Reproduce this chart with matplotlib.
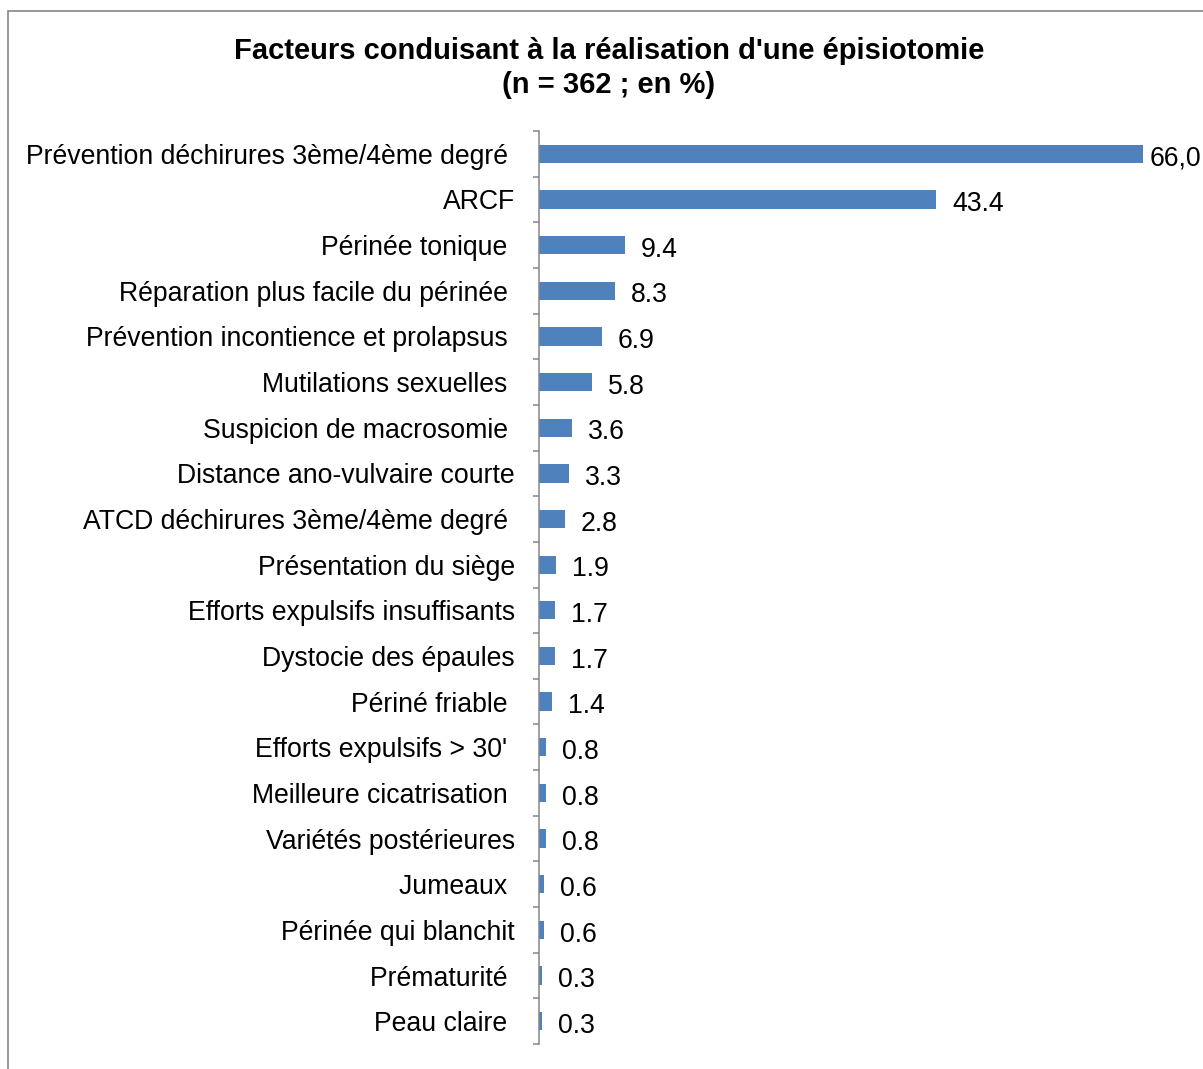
import matplotlib.pyplot as plt
import numpy as np
from matplotlib.patches import Rectangle

categories = [
    "Prévention déchirures 3ème/4ème degré ",
    "ARCF",
    "Périnée tonique ",
    "Réparation plus facile du périnée ",
    "Prévention incontience et prolapsus ",
    "Mutilations sexuelles ",
    "Suspicion de macrosomie ",
    "Distance ano-vulvaire courte",
    "ATCD déchirures 3ème/4ème degré ",
    "Présentation du siège",
    "Efforts expulsifs insuffisants",
    "Dystocie des épaules",
    "Périné friable ",
    "Efforts expulsifs > 30' ",
    "Meilleure cicatrisation ",
    "Variétés postérieures",
    "Jumeaux ",
    "Périnée qui blanchit",
    "Prématurité ",
    "Peau claire ",
]
values = [66.0, 43.4, 9.4, 8.3, 6.9, 5.8, 3.6, 3.3, 2.8, 1.9,
          1.7, 1.7, 1.4, 0.8, 0.8, 0.8, 0.6, 0.6, 0.3, 0.3]
value_labels = ["66,0", "43.4", "9.4", "8.3", "6.9", "5.8", "3.6", "3.3", "2.8", "1.9",
                "1.7", "1.7", "1.4", "0.8", "0.8", "0.8", "0.6", "0.6", "0.3", "0.3"]

BAR_COLOR = "#4F81BD"
AXIS_COLOR = "#868686"
FS = 19.2

plt.rcParams["font.family"] = ["Liberation Sans", "DejaVu Sans"]

W, H = 1203, 1069
fig = plt.figure(figsize=(W / 100, H / 100), dpi=100)
ax = fig.add_axes([539 / W, 1 - 1044 / H, (1143 - 539) / W, (1044 - 131) / H])

y = np.arange(len(categories))
ax.barh(y, values, height=0.4, color=BAR_COLOR)

for i, (yi, v, lab) in enumerate(zip(y, values, value_labels)):
    # longest bar label sits tighter against the bar (runs off the edge)
    off = 5 if i == 0 else 11.5
    ax.annotate(lab, (v, yi), xytext=(off, -1.2), textcoords="offset points",
                va="center_baseline", ha="left", fontsize=FS, annotation_clip=False)

ax.set_ylim(len(categories) - 0.5, -0.5)
ax.set_xlim(0, 66)
ax.set_yticks(y)
ax.set_yticklabels(categories, fontsize=FS)
ax.set_yticks(np.arange(len(categories) + 1) - 0.5, minor=True)
ax.tick_params(axis="y", which="major", length=0, pad=17.3)
ax.tick_params(axis="y", which="minor", length=4.5, width=1.1, color=AXIS_COLOR,
               direction="out")
ax.set_xticks([])
for side in ["top", "right", "bottom"]:
    ax.spines[side].set_visible(False)
ax.spines["left"].set_color(AXIS_COLOR)
ax.spines["left"].set_linewidth(1.1)

fig.text(609 / W, 1 - 51 / H, "Facteurs conduisant à la réalisation d'une épisiotomie",
         ha="center", va="center", fontsize=21, fontweight="bold")
fig.text(609 / W, 1 - 85 / H, "(n = 362 ; en %)",
         ha="center", va="center", fontsize=21, fontweight="bold")

# outer chart frame
fig.patches.append(Rectangle((8 / W, -0.1), 1.2, 1 - 11 / H + 0.1,
                             transform=fig.transFigure, fill=False,
                             edgecolor=AXIS_COLOR, linewidth=1.2))

fig.savefig("out.png", dpi=100, facecolor="white")
